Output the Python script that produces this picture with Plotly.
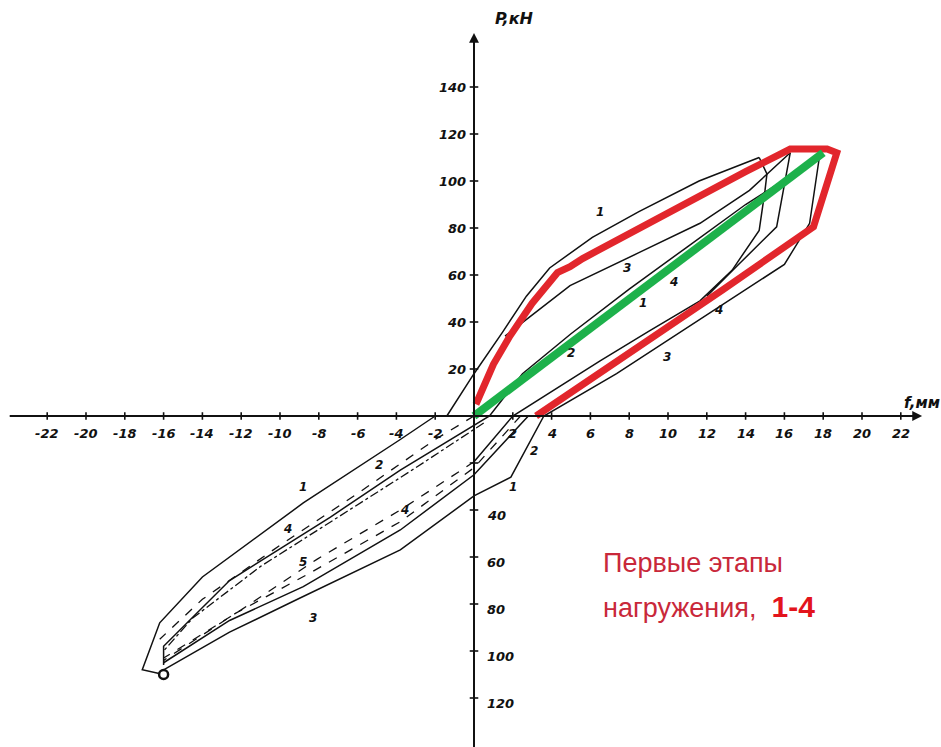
import plotly.graph_objects as go

# ---------------- data (mm, kN) ----------------
x_ticks = [-22, -20, -18, -16, -14, -12, -10, -8, -6, -4, -2, 2, 4, 6, 8, 10, 12, 14, 16, 18, 20, 22]
y_ticks_pos = [20, 40, 60, 80, 100, 120, 140]
y_ticks_neg = [-20, -40, -60, -80, -100, -120]
y_labels_neg = ["", "40", "60", "80", "100", "120"]

# red highlighted loop (first loading stages)
red_x = [0.1, 1.0, 1.85, 3.0, 4.3, 4.95, 5.6, 8.5, 11.6, 14.0, 16.3, 18.2, 18.7, 17.5, 12.8, 6.5, 3.2]
red_y = [5, 22, 34, 48, 61, 63.5, 67, 80, 94, 104, 113.6, 113.6, 112, 80.5, 53.6, 18.5, 0]

# green secant
green_x = [0.0, 18.0]
green_y = [0.0, 112.0]

# black curves of the original diagram
b1_load_x = [-1.4, 0.0, 1.5, 2.7, 3.9, 6.1, 8.5, 11.6, 14.7]
b1_load_y = [0, 18, 36, 51, 63, 76, 87, 100, 110]
b1_unl_x = [14.7, 15.1, 15.0, 14.7, 13.3, 11.65, 9.0, 6.5, 2.0, 0.0]
b1_unl_y = [110, 103, 96, 79, 62, 49, 36, 23.5, 0, -19.5]

b2_load_x = [1.6, 4.95, 8.5, 11.65, 14.2, 16.3]
b2_load_y = [34, 55.5, 69.5, 82, 96, 112]
b2_unl_x = [16.3, 15.6, 13.7, 12.0]
b2_unl_y = [112, 80.5, 65, 51]

b3_x = [17.8, 14.0, 11.0, 8.0, 5.0, 2.5, 0.8, 0.0, -3.8, -7.4, -12.6, -16.0, -16.0]
b3_y = [110, 90, 72, 54, 35, 18, 0, -4, -23, -43, -70, -98, -106]

b4_unl_x = [17.8, 17.3, 16.0, 11.65, 7.35, 3.6, 1.9, 0.0, -3.8, -9.1, -12.6, -16.0]
b4_unl_y = [110, 82, 64.5, 41, 18, 0, -26, -34, -57, -78, -92, -108]

q3_upper_x = [-2.0, -3.8, -8.8, -14.0, -16.2, -17.1, -16.0]
q3_upper_y = [0, -10, -37, -68.5, -88, -108, -110]

d1_x = [0.0, -2.0, -6.0, -10.0, -14.0, -16.2]
d1_y = [0, -10, -33, -55, -78, -95]
d2_x = [0.5, -3.0, -7.0, -11.0, -14.5, -16.0]
d2_y = [-3, -22, -43, -64, -86, -100]

d3_x = [0.0, -3.8, -8.1, -12.0, -16.0]
d3_y = [-19.5, -40, -61, -82.5, -103]
s3_x = [2.8, 0.0, -3.8, -8.8, -12.6, -16.0]
s3_y = [0, -25, -48.5, -72.6, -87, -105]
d4_x = [2.4, 0.0, -3.8, -8.5, -12.3, -16.0]
d4_y = [0, -22, -45, -67, -84, -104]

mark_x = [-16.0]
mark_y = [-110.0]

curve_labels = ["1", "3", "4", "1", "4", "3", "2", "1", "2", "4", "5", "4", "3", "1", "2"]
curve_lab_x = [6.5, 7.9, 10.3, 8.7, 12.6, 9.95, 5.0, -8.8, -4.9, -9.6, -8.8, -3.6, -8.3, 2.0, 3.1]
curve_lab_y = [87, 63, 57, 48, 45, 25, 27, -30, -21, -48, -62, -40, -86, -30, -15]

# ---------------- figure ----------------
W, H = 941, 747
PX_MM = 19.4
PX_KN = 2.35
X0, Y0 = 474, 416
xr = [-X0 / PX_MM, (W - X0) / PX_MM]
yr = [(Y0 - H) / PX_KN, Y0 / PX_KN]

fig = go.Figure()


def add_line(xs, ys, dash="solid", width=1.5, color="#111111"):
    fig.add_trace(go.Scatter(x=xs, y=ys, mode="lines", hoverinfo="skip",
                             line=dict(color=color, width=width, dash=dash), showlegend=False))


add_line(b1_load_x, b1_load_y)
add_line(b1_unl_x, b1_unl_y)
add_line(b2_load_x, b2_load_y)
add_line(b2_unl_x, b2_unl_y)
add_line(b3_x, b3_y)
add_line(b4_unl_x, b4_unl_y)
add_line(q3_upper_x, q3_upper_y)
add_line(d1_x, d1_y, dash="dash", width=1.3)
add_line(d2_x, d2_y, dash="dashdot", width=1.3)
add_line(d3_x, d3_y, dash="dash", width=1.3)
add_line(s3_x, s3_y)
add_line(d4_x, d4_y, dash="dash", width=1.3)

# highlighted curves
add_line(red_x, red_y, width=7, color="#e2262c")
add_line(green_x, green_y, width=8, color="#1db14b")

fig.add_trace(go.Scatter(x=mark_x, y=mark_y, mode="markers", hoverinfo="skip", showlegend=False,
                         marker=dict(size=9, color="white", line=dict(color="#111111", width=2.5))))

# axes drawn as cross through origin
shapes = []
shapes.append(dict(type="line", x0=xr[0] + 0.5, x1=22.9, y0=0, y1=0, line=dict(color="#111", width=2)))
shapes.append(dict(type="line", x0=0, x1=0, y0=yr[0], y1=162, line=dict(color="#111", width=2)))
for t in x_ticks:
    shapes.append(dict(type="line", x0=t, x1=t, y0=-1.6, y1=1.6, line=dict(color="#111", width=1.6)))
for t in y_ticks_pos + y_ticks_neg:
    shapes.append(dict(type="line", x0=-0.22, x1=0.22, y0=t, y1=t, line=dict(color="#111", width=1.6)))
fig.update_layout(shapes=shapes)

TICKFONT = dict(family="DejaVu Sans", size=13, color="#111", style="italic", weight="bold")
ann = []
for t in x_ticks:
    ann.append(dict(x=t, y=-7.5, text=str(t), showarrow=False, font=TICKFONT, xanchor="center", yanchor="middle"))
for t in y_ticks_pos:
    ann.append(dict(x=-0.3, y=t, text=str(t), showarrow=False, font=TICKFONT, xanchor="right", yanchor="middle"))
for t, lab in zip(y_ticks_neg, y_labels_neg):
    if lab:
        ann.append(dict(x=0.55, y=t - 2.5, text=lab, showarrow=False, font=TICKFONT, xanchor="left", yanchor="middle"))
for lab, lx, ly in zip(curve_labels, curve_lab_x, curve_lab_y):
    ann.append(dict(x=lx, y=ly, text=lab, showarrow=False,
                    font=dict(family="DejaVu Sans", size=12, color="#111", style="italic", weight="bold")))

# arrowheads
ann.append(dict(x=23.1, y=0, ax=-16, ay=0, text="", showarrow=True, arrowhead=2, arrowsize=1.1, arrowwidth=1.8, arrowcolor="#111"))
ann.append(dict(x=0, y=163, ax=0, ay=16, text="", showarrow=True, arrowhead=2, arrowsize=1.1, arrowwidth=1.8, arrowcolor="#111"))

# axis titles
ann.append(dict(x=2.1, y=169, text="P,кН", showarrow=False,
                font=dict(family="DejaVu Sans", size=16, color="#111", style="italic", weight="bold")))
ann.append(dict(x=23.1, y=5.5, text="f,мм", showarrow=False,
                font=dict(family="DejaVu Sans", size=15, color="#111", style="italic", weight="bold")))

# caption
ann.append(dict(x=6.55, y=-62.5, text="Первые этапы", showarrow=False, xanchor="left", yanchor="middle",
                font=dict(family="Liberation Sans", size=27, color="#c9283a")))
ann.append(dict(x=6.55, y=-81, showarrow=False, xanchor="left", yanchor="middle",
                text="нагружения,  <span style='color:#e3141c;font-size:30px'><b>1-4</b></span>",
                font=dict(family="Liberation Sans", size=27, color="#c9283a")))

fig.update_layout(
    annotations=ann,
    width=W, height=H,
    margin=dict(l=0, r=0, t=0, b=0),
    paper_bgcolor="white", plot_bgcolor="white",
    xaxis=dict(range=xr, visible=False, fixedrange=True),
    yaxis=dict(range=yr, visible=False, fixedrange=True),
    showlegend=False,
)

fig.write_html("out.html")
